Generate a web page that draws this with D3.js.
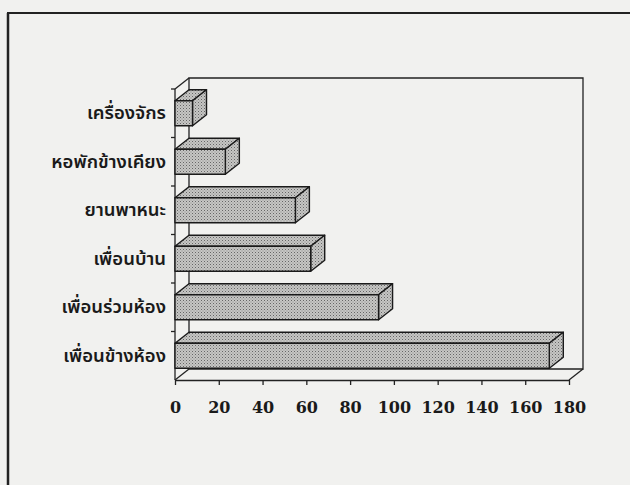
<!DOCTYPE html>
<html>
<head>
<meta charset="utf-8">
<script src="https://cdn.jsdelivr.net/npm/d3@7"></script>
<style>
  body { margin: 0; background: #f1f1ef; }
</style>
</head>
<body>
<div id="chart"></div>
<script>
"use strict";

// categories listed top to bottom, as in the picture
const categories = [
  "เครื่องจักร",
  "หอพักข้างเคียง",
  "ยานพาหนะ",
  "เพื่อนบ้าน",
  "เพื่อนร่วมห้อง",
  "เพื่อนข้างห้อง"
];
const values = [8, 23, 55, 62, 93, 171];
const tickValues = [0, 20, 40, 60, 80, 100, 120, 140, 160, 180];

const W = 630;
const H = 485;
const plot = { left: 175, right: 569, top: 89, bottom: 380 };
const dx = 14, dy = -11; // depth of the 3d box

const svg = d3
  .select("#chart")
  .append("svg")
  .attr("width", W)
  .attr("height", H)
  .style("display", "block");

// stipple pattern for the bars
const defs = svg.append("defs");
const pat = defs
  .append("pattern")
  .attr("id", "dots")
  .attr("width", 3)
  .attr("height", 3)
  .attr("patternUnits", "userSpaceOnUse");
pat.append("rect").attr("width", 3).attr("height", 3).attr("fill", "#c6c6c4");
pat.append("rect").attr("width", 1).attr("height", 1).attr("fill", "#666");
pat.append("rect").attr("x", 1.5).attr("y", 1.5).attr("width", 1).attr("height", 1).attr("fill", "#8a8a8a");

svg.append("rect").attr("width", W).attr("height", H).attr("fill", "#f1f1ef");

// outer frame of the scanned page
svg.append("line")
  .attr("x1", 8).attr("y1", 13).attr("x2", 8).attr("y2", H)
  .attr("stroke", "#222").attr("stroke-width", 2.5);
svg.append("line")
  .attr("x1", 7).attr("y1", 13).attr("x2", W).attr("y2", 13)
  .attr("stroke", "#222").attr("stroke-width", 2);

const x = d3.scaleLinear().domain([0, 180]).range([plot.left, plot.right]);
const y = d3
  .scaleBand()
  .domain(categories)
  .range([plot.top, plot.bottom])
  .paddingInner(0.485)
  .paddingOuter(0.2425);

const g = svg.append("g")
  .attr("fill", "none")
  .attr("stroke", "#222")
  .attr("stroke-width", 1.3);

const L = plot.left, R = plot.right, T = plot.top, B = plot.bottom;

// back wall and floor
g.append("path").attr("d", `M${L + dx},${B + dy}V${T + dy}H${R + dx}V${B + dy}H${L + dx}`);
g.append("path").attr("d", `M${L},${T}L${L + dx},${T + dy}`);
g.append("path").attr("d", `M${L},${B}L${L + dx},${B + dy}`);
g.append("path").attr("d", `M${R},${B}L${R + dx},${B + dy}`);
g.append("path").attr("d", `M${L},${T}V${B}`);

// category boundary ticks on the left
const step = y.step();
const bounds = categories.map((c) => y(c) - (step * y.paddingInner()) / 2);
g.selectAll(".ytick")
  .data(bounds)
  .enter()
  .append("path")
  .attr("class", "ytick")
  .attr("d", (d) => `M${L - 4},${d}H${L}`);

// bars as 3d boxes
const bars = svg.selectAll(".bar")
  .data(categories.map((c, i) => ({ c, v: values[i] })))
  .enter()
  .append("g")
  .attr("class", "bar")
  .attr("stroke", "#1a1a1a")
  .attr("stroke-width", 1.4)
  .attr("stroke-linejoin", "round")
  .attr("fill", "url(#dots)");

bars.append("path").attr("d", (d) => {
  const x0 = x(0), x1 = x(d.v), y0 = y(d.c);
  return `M${x0},${y0}L${x0 + dx},${y0 + dy}H${x1 + dx}L${x1},${y0}Z`;
});
bars.append("path").attr("d", (d) => {
  const x1 = x(d.v), y0 = y(d.c), y1 = y0 + y.bandwidth();
  return `M${x1},${y0}L${x1 + dx},${y0 + dy}V${y1 + dy}L${x1},${y1}Z`;
});
bars.append("rect")
  .attr("x", x(0))
  .attr("y", (d) => y(d.c))
  .attr("width", (d) => x(d.v) - x(0))
  .attr("height", y.bandwidth());

// category labels
svg.selectAll(".label")
  .data(categories)
  .enter()
  .append("text")
  .attr("class", "label")
  .attr("x", 166)
  .attr("y", (d) => y(d) + y.bandwidth() / 2 + 6)
  .attr("text-anchor", "end")
  .attr("font-family", "'Noto Sans Thai', 'Noto Sans', Loma, Garuda, sans-serif")
  .attr("font-size", "18.5px")
  .attr("font-weight", 600)
  .attr("fill", "#1a1a1a")
  .text((d) => d);

// value axis on the front floor edge
const axis = svg.append("g")
  .attr("transform", `translate(0,${B})`)
  .call(d3.axisBottom(x).tickValues(tickValues).tickSize(5).tickSizeOuter(0).tickPadding(17));
axis.select(".domain").attr("stroke", "#222").attr("stroke-width", 1.3);
axis.selectAll(".tick line").attr("stroke", "#222").attr("stroke-width", 1.3);
axis.selectAll(".tick text")
  .attr("font-family", "'DejaVu Serif', serif")
  .attr("font-weight", "bold")
  .attr("font-size", "16px")
  .attr("fill", "#1a1a1a");
</script>
</body>
</html>
